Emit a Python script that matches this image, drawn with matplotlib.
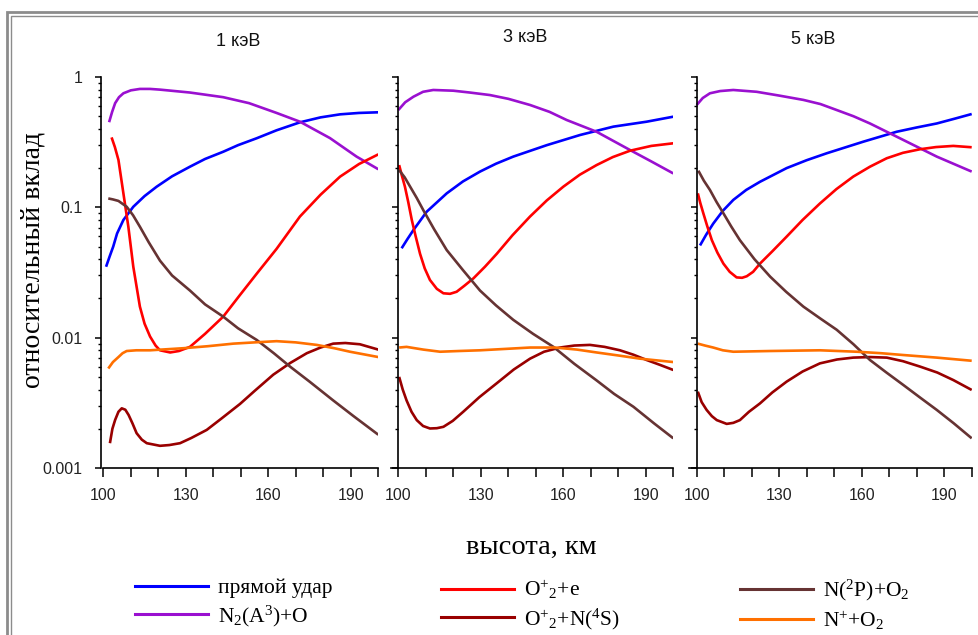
import matplotlib
matplotlib.use("Agg")
import matplotlib.pyplot as plt
from matplotlib.lines import Line2D
from matplotlib.patches import Rectangle
from matplotlib.ticker import FixedLocator, LogLocator, NullFormatter

plt.rcParams['font.family'] = ['Liberation Sans', 'DejaVu Sans']
plt.rcParams['mathtext.fontset'] = 'custom'
plt.rcParams['mathtext.rm'] = 'Liberation Serif'
plt.rcParams['mathtext.it'] = 'Liberation Serif:italic'

# ---- data ----
titles = ['1 кэВ', '3 кэВ', '5 кэВ']
x_ticks = [100, 110, 120, 130, 140, 150, 160, 170, 180, 190, 200]
x_ticklabels = ['100', '', '', '130', '', '', '160', '', '', '190', '']
y_ticks = [0.001, 0.01, 0.1, 1]
y_ticklabels = ['0.001', '0.01', '0.1', '1']

labels = ['прямой удар', r'N$_2$(A$^3$)+O', r'O$^{+}{}_{2}$+e',
          r'O$^{+}{}_{2}$+N($^4$S)', r'N($^2$P)+O$_2$', r'N$^{+}$+O$_2$']
colors = ['#0000FF', '#9A10D0', '#FF0000', '#990000', '#663333', '#FF7000']

# 1 keV
e1_direct_alt = [101, 102.3, 103.6, 105, 107.3, 110.9, 115, 119.4, 125, 131.5, 137, 143.6,
                 149, 155.8, 163, 171.5, 179, 186.1, 193, 200]
e1_direct_val = [0.035, 0.042, 0.050, 0.063, 0.080, 0.101, 0.122, 0.144, 0.173, 0.205, 0.235,
                 0.267, 0.30, 0.339, 0.39, 0.449, 0.49, 0.517, 0.53, 0.536]
e1_n2a_alt = [102.1, 103.2, 104.3, 105.7, 107.3, 110, 113.3, 117, 120.6, 131.5, 143.6, 153,
              163, 171.5, 182.4, 192.1, 200]
e1_n2a_val = [0.45, 0.54, 0.63, 0.70, 0.75, 0.79, 0.81, 0.81, 0.80, 0.76, 0.70, 0.63, 0.53,
              0.454, 0.34, 0.245, 0.196]
e1_o2e_alt = [103.0, 104.2, 105.5, 107.3, 109.1, 110.9, 113.3, 115, 117.0, 119, 120.6, 124.3,
              127.5, 131.5, 137, 143.6, 149.5, 155.8, 163, 171.5, 179, 186.1, 193, 200]
e1_o2e_val = [0.344, 0.29, 0.231, 0.128, 0.071, 0.035, 0.0173, 0.0128, 0.0102, 0.0087, 0.0080,
              0.0077, 0.0079, 0.0085, 0.0107, 0.0145, 0.021, 0.031, 0.048, 0.085, 0.125,
              0.172, 0.215, 0.255]
e1_o2n_alt = [102.4, 103.3, 104.3, 105.5, 106.7, 108, 109.2, 110.6, 112.1, 114, 115.8, 120.6,
              124, 127.9, 132, 137.6, 143, 149.7, 155, 161.8, 168, 174, 179, 183.6, 188,
              193.3, 200]
e1_o2n_val = [0.00155, 0.0020, 0.00234, 0.0027, 0.00287, 0.0028, 0.00255, 0.0022, 0.00185,
              0.00165, 0.00155, 0.00148, 0.0015, 0.00155, 0.0017, 0.00196, 0.0024, 0.0031,
              0.0039, 0.0052, 0.0064, 0.0076, 0.0084, 0.0090, 0.0091, 0.0089, 0.0081]
e1_n2p_alt = [101.8, 103.5, 105.5, 108.5, 110.8, 113.3, 116.5, 120.6, 125, 131.5, 137, 143.6,
              149, 155.8, 162, 167.9, 175, 183.6, 191, 200]
e1_n2p_val = [0.117, 0.115, 0.112, 0.101, 0.087, 0.071, 0.054, 0.039, 0.030, 0.023, 0.018,
              0.0145, 0.0118, 0.0096, 0.0076, 0.0060, 0.0046, 0.0033, 0.0025, 0.0018]
e1_np_alt = [101.8, 103.5, 105.5, 107, 108.5, 112, 117, 129.1, 138, 147.3, 155, 163, 170,
             177.6, 184, 189.7, 200]
e1_np_val = [0.0058, 0.0065, 0.0071, 0.0076, 0.0079, 0.0080, 0.0080, 0.0083, 0.0086, 0.0090,
             0.0092, 0.0094, 0.0092, 0.0088, 0.0083, 0.0078, 0.0071]

# 3 keV
e3_direct_alt = [101.2, 103.3, 105.5, 110.3, 117.6, 123.5, 129.7, 135.5, 141.8, 154, 166.1,
                 178.2, 190.3, 200]
e3_direct_val = [0.0485, 0.057, 0.067, 0.0925, 0.128, 0.158, 0.188, 0.216, 0.245, 0.30, 0.359,
                 0.416, 0.454, 0.496]
e3_n2a_alt = [100, 102.5, 105.5, 109, 112.7, 120, 126, 133.3, 140, 147.9, 155, 161.2, 172.1,
              184.3, 192, 200]
e3_n2a_val = [0.558, 0.64, 0.706, 0.77, 0.795, 0.785, 0.76, 0.727, 0.68, 0.61, 0.54, 0.468,
              0.38, 0.275, 0.225, 0.182]
e3_o2e_alt = [100.3, 101.3, 102.4, 103.6, 104.9, 106.3, 107.9, 109.6, 111.5, 114, 116.4,
              118.8, 121.2, 124, 127.3, 131.5, 135.8, 141.5, 147.9, 154, 160, 166, 172.1,
              178, 184.3, 192, 200]
e3_o2e_val = [0.211, 0.175, 0.144, 0.11, 0.08, 0.06, 0.044, 0.034, 0.0277, 0.0237, 0.0219,
              0.0217, 0.0225, 0.025, 0.0285, 0.035, 0.044, 0.061, 0.085, 0.113, 0.144, 0.178,
              0.211, 0.243, 0.272, 0.296, 0.31]
e3_o2n_alt = [100.3, 101.6, 103, 104.8, 106.7, 109, 111.5, 114, 116.4, 119.8, 123.6, 129.5,
              135.8, 142, 147.9, 153, 158.8, 164, 169.7, 175, 180.6, 185.5, 190.3, 195, 200]
e3_o2n_val = [0.0050, 0.0040, 0.0033, 0.0027, 0.00233, 0.0021, 0.00201, 0.00202, 0.00207,
              0.0023, 0.0027, 0.0035, 0.00447, 0.0057, 0.0069, 0.0078, 0.0084, 0.0087,
              0.0088, 0.0085, 0.0080, 0.0074, 0.00674, 0.0062, 0.00565]
e3_n2p_alt = [100.3, 102.3, 104.3, 106.7, 109.1, 113, 117.6, 123.5, 129.7, 135.5, 141.8, 149,
              156.4, 164, 172.1, 178.5, 185.5, 193, 200]
e3_n2p_val = [0.193, 0.17, 0.144, 0.118, 0.095, 0.068, 0.047, 0.033, 0.023, 0.0177, 0.0137,
              0.0107, 0.0085, 0.0063, 0.0047, 0.0037, 0.00295, 0.0022, 0.00169]
e3_np_alt = [100.3, 103, 106, 109.1, 115.2, 122, 129.7, 139, 147.9, 157, 165, 172.1, 180,
             187.9, 200]
e3_np_val = [0.0084, 0.0085, 0.0083, 0.0081, 0.0078, 0.0079, 0.0080, 0.0082, 0.0084, 0.0084,
             0.0081, 0.0077, 0.0073, 0.0069, 0.0065]

# 5 keV
e5_direct_alt = [101.2, 103.5, 106, 109.5, 113.3, 118, 123, 132.7, 140, 147.3, 160.6, 172.7,
                 180, 187.3, 194, 200]
e5_direct_val = [0.051, 0.062, 0.075, 0.094, 0.114, 0.136, 0.157, 0.20, 0.23, 0.26, 0.319,
                 0.38, 0.41, 0.44, 0.48, 0.52]
e5_n2a_alt = [100, 102.2, 104.8, 108.5, 113.3, 121.8, 130, 138.8, 145, 150.9, 157, 163, 175.1,
              187.3, 200]
e5_n2a_val = [0.61, 0.69, 0.75, 0.78, 0.795, 0.77, 0.72, 0.667, 0.62, 0.558, 0.50, 0.44,
              0.329, 0.245, 0.188]
e5_o2e_alt = [100.4, 101.3, 102.4, 103.8, 105.5, 107.5, 109.7, 112, 114.5, 116.5, 118.2,
              120.5, 123, 127.5, 132.7, 138.5, 144.8, 150.8, 156.9, 163, 169.1, 175, 181.2,
              187, 193.3, 200]
e5_o2e_val = [0.128, 0.108, 0.09, 0.072, 0.056, 0.045, 0.037, 0.032, 0.029, 0.0288, 0.0296,
              0.032, 0.037, 0.046, 0.0596, 0.08, 0.107, 0.138, 0.172, 0.205, 0.238, 0.262,
              0.279, 0.290, 0.296, 0.289]
e5_o2n_alt = [100.4, 101.8, 103.6, 105.5, 107.3, 110.9, 113.3, 115.7, 119, 123, 127.5, 132.7,
              138.5, 144.8, 151, 156.9, 163, 169.1, 175, 181.2, 187.5, 193.3, 200]
e5_o2n_val = [0.00385, 0.0032, 0.00279, 0.0025, 0.00233, 0.00218, 0.00222, 0.00233, 0.0027,
              0.00313, 0.0038, 0.0046, 0.0055, 0.00635, 0.0068, 0.00703, 0.0071, 0.00703,
              0.0066, 0.0060, 0.0054, 0.00473, 0.00397]
e5_n2p_alt = [100.6, 102.6, 104.8, 107.2, 109.7, 112.6, 115.7, 121, 126.7, 132.5, 138.8, 145,
              150.9, 157, 163, 169, 175.1, 181, 187.3, 193.5, 200]
e5_n2p_val = [0.191, 0.16, 0.136, 0.11, 0.09, 0.071, 0.056, 0.04, 0.0294, 0.0225, 0.0173,
              0.014, 0.0115, 0.0089, 0.00674, 0.0054, 0.00434, 0.0035, 0.00279, 0.0022,
              0.00169]
e5_np_alt = [100.4, 103, 106, 109.5, 113.3, 126.7, 144.8, 158.2, 167, 175.1, 187.3, 200]
e5_np_val = [0.0090, 0.0087, 0.0084, 0.0080, 0.0078, 0.0079, 0.0080, 0.0078, 0.0076, 0.00736,
             0.00703, 0.00665]

panels = [
    [(e1_direct_alt, e1_direct_val), (e1_n2a_alt, e1_n2a_val), (e1_o2e_alt, e1_o2e_val),
     (e1_o2n_alt, e1_o2n_val), (e1_n2p_alt, e1_n2p_val), (e1_np_alt, e1_np_val)],
    [(e3_direct_alt, e3_direct_val), (e3_n2a_alt, e3_n2a_val), (e3_o2e_alt, e3_o2e_val),
     (e3_o2n_alt, e3_o2n_val), (e3_n2p_alt, e3_n2p_val), (e3_np_alt, e3_np_val)],
    [(e5_direct_alt, e5_direct_val), (e5_n2a_alt, e5_n2a_val), (e5_o2e_alt, e5_o2e_val),
     (e5_o2n_alt, e5_o2n_val), (e5_n2p_alt, e5_n2p_val), (e5_np_alt, e5_np_val)],
]

# ---- layout ----
W, H = 979, 635
fig = plt.figure(figsize=(W / 100, H / 100), dpi=100)

# grey double frame
for x0, y0, lw in [(7, 12, 2.0), (11, 16, 1.0)]:
    fig.patches.append(Rectangle((x0 / W, 1 - (H + 20) / H), 2, (H + 20 - y0) / H,
                                 transform=fig.transFigure, fill=False,
                                 edgecolor='#8c8c8c', linewidth=lw))

lefts = [95.9, 390.9, 689.3]
ax_w = 282.4
ax_top, ax_bot = 77, 468
title_pos = [(238, 42), (525, 38), (813, 40)]

for i, series in enumerate(panels):
    ax = fig.add_axes([lefts[i] / W, 1 - ax_bot / H, ax_w / W, (ax_bot - ax_top) / H])
    for (alt, val), c in zip(series, colors):
        ax.plot(alt, val, color=c, lw=1.9, solid_capstyle='butt', solid_joinstyle='round')
    ax.set_yscale('log')
    ax.set_ylim(0.001, 1)
    ax.set_xlim(97.3, 200)
    ax.patch.set_alpha(0)
    for s in ['top', 'right']:
        ax.spines[s].set_visible(False)
    for s in ['left', 'bottom']:
        ax.spines[s].set_linewidth(1.2)
    if i == 0:
        ax.spines['left'].set_position(('data', 99.05))
        ax.spines['bottom'].set_bounds(100, 200)
    else:
        ax.spines['left'].set_position(('data', 100))

    ax.xaxis.set_major_locator(FixedLocator(x_ticks))
    ax.set_xticklabels(x_ticklabels)
    ax.yaxis.set_major_locator(FixedLocator(y_ticks))
    ax.yaxis.set_minor_locator(LogLocator(base=10, subs=range(2, 10)))
    ax.yaxis.set_minor_formatter(NullFormatter())
    if i == 0:
        ax.set_yticklabels(y_ticklabels)
    else:
        ax.set_yticklabels([])
    ax.tick_params(axis='x', direction='out', length=6.5, width=1.1, pad=8,
                   labelsize=11.5, labelcolor='#222222')
    ax.tick_params(axis='y', which='major', direction='out', length=4, width=1.1, pad=9,
                   labelsize=11.5, labelcolor='#222222')
    ax.tick_params(axis='y', which='minor', direction='out', length=2.5, width=1.0)
    fig.text(title_pos[i][0] / W, 1 - title_pos[i][1] / H, titles[i],
             ha='center', va='center', fontsize=13, color='#111111')

fig.text(33 / W, 1 - 260 / H, 'относительный вклад', rotation=90, ha='center',
         va='center', fontsize=20, family='Liberation Serif')
fig.text(531 / W, 1 - 547 / H, 'высота, км', ha='center', va='center',
         fontsize=20.5, family='Liberation Serif')

# legend in three columns, two rows each
handles = [Line2D([], [], color=c, lw=2.2) for c in colors]
col_x = [135, 441, 740]
for k in range(3):
    fig.legend(handles[2 * k:2 * k + 2], labels[2 * k:2 * k + 2],
               loc='upper left', bbox_to_anchor=(col_x[k] / W, 1 - 578 / H),
               frameon=False, handlelength=3.4, handletextpad=0.45,
               labelspacing=0.25, borderpad=0, borderaxespad=0,
               prop={'family': 'Liberation Serif', 'size': 15.5})

fig.savefig('out.png', dpi=100)
